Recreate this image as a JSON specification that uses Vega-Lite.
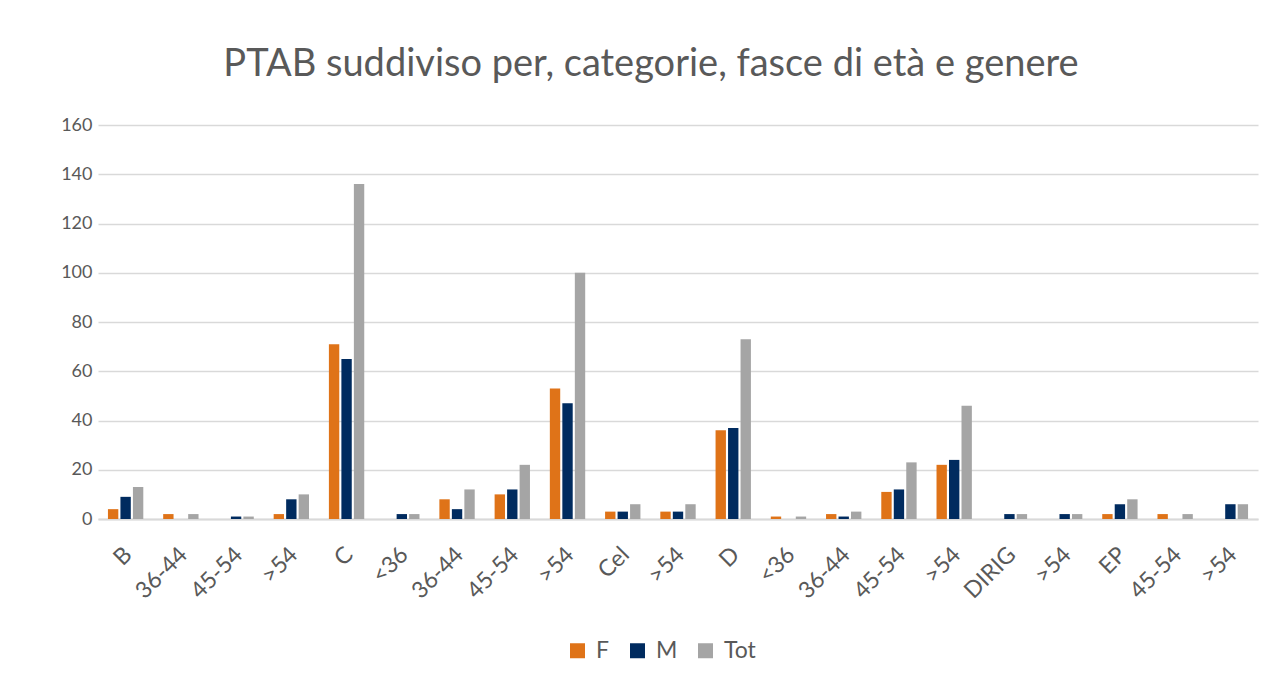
{
  "$schema": "https://vega.github.io/schema/vega-lite/v6.json",
  "width": 1160,
  "height": 394,
  "padding": {"left": 60, "top": 46, "right": 10, "bottom": 5},
  "background": "white",
  "title": {"text": "PTAB suddiviso per, categorie, fasce di età e genere", "font": "Lato", "fontSize": 38, "fontWeight": "normal", "color": "#595959", "offset": 32, "dx": -27},
  "data": {"values": [
    {"i": 0, "s": "F", "v": 4}, {"i": 0, "s": "M", "v": 9}, {"i": 0, "s": "Tot", "v": 13},
    {"i": 1, "s": "F", "v": 2}, {"i": 1, "s": "M", "v": 0}, {"i": 1, "s": "Tot", "v": 2},
    {"i": 2, "s": "F", "v": 0}, {"i": 2, "s": "M", "v": 1}, {"i": 2, "s": "Tot", "v": 1},
    {"i": 3, "s": "F", "v": 2}, {"i": 3, "s": "M", "v": 8}, {"i": 3, "s": "Tot", "v": 10},
    {"i": 4, "s": "F", "v": 71}, {"i": 4, "s": "M", "v": 65}, {"i": 4, "s": "Tot", "v": 136},
    {"i": 5, "s": "F", "v": 0}, {"i": 5, "s": "M", "v": 2}, {"i": 5, "s": "Tot", "v": 2},
    {"i": 6, "s": "F", "v": 8}, {"i": 6, "s": "M", "v": 4}, {"i": 6, "s": "Tot", "v": 12},
    {"i": 7, "s": "F", "v": 10}, {"i": 7, "s": "M", "v": 12}, {"i": 7, "s": "Tot", "v": 22},
    {"i": 8, "s": "F", "v": 53}, {"i": 8, "s": "M", "v": 47}, {"i": 8, "s": "Tot", "v": 100},
    {"i": 9, "s": "F", "v": 3}, {"i": 9, "s": "M", "v": 3}, {"i": 9, "s": "Tot", "v": 6},
    {"i": 10, "s": "F", "v": 3}, {"i": 10, "s": "M", "v": 3}, {"i": 10, "s": "Tot", "v": 6},
    {"i": 11, "s": "F", "v": 36}, {"i": 11, "s": "M", "v": 37}, {"i": 11, "s": "Tot", "v": 73},
    {"i": 12, "s": "F", "v": 1}, {"i": 12, "s": "M", "v": 0}, {"i": 12, "s": "Tot", "v": 1},
    {"i": 13, "s": "F", "v": 2}, {"i": 13, "s": "M", "v": 1}, {"i": 13, "s": "Tot", "v": 3},
    {"i": 14, "s": "F", "v": 11}, {"i": 14, "s": "M", "v": 12}, {"i": 14, "s": "Tot", "v": 23},
    {"i": 15, "s": "F", "v": 22}, {"i": 15, "s": "M", "v": 24}, {"i": 15, "s": "Tot", "v": 46},
    {"i": 16, "s": "F", "v": 0}, {"i": 16, "s": "M", "v": 2}, {"i": 16, "s": "Tot", "v": 2},
    {"i": 17, "s": "F", "v": 0}, {"i": 17, "s": "M", "v": 2}, {"i": 17, "s": "Tot", "v": 2},
    {"i": 18, "s": "F", "v": 2}, {"i": 18, "s": "M", "v": 6}, {"i": 18, "s": "Tot", "v": 8},
    {"i": 19, "s": "F", "v": 2}, {"i": 19, "s": "M", "v": 0}, {"i": 19, "s": "Tot", "v": 2},
    {"i": 20, "s": "F", "v": 0}, {"i": 20, "s": "M", "v": 6}, {"i": 20, "s": "Tot", "v": 6}
  ]},
  "mark": {"type": "bar"},
  "encoding": {
    "x": {
      "field": "i", "type": "ordinal",
      "scale": {"paddingInner": 0.36, "paddingOuter": 0.18},
      "axis": {
        "title": null, "labelAngle": -45, "labelFont": "Lato", "labelFontSize": 23, "labelColor": "#595959",
        "labelPadding": 24, "labelOffset": -5, "ticks": false, "domainColor": "#D9D9D9", "domainWidth": 2,
        "labelExpr": "['B','36-44','45-54','>54','C','<36','36-44','45-54','>54','Cel','>54','D','<36','36-44','45-54','>54','DIRIG','>54','EP','45-54','>54'][datum.value]"
      }
    },
    "xOffset": {"field": "s", "type": "nominal", "sort": ["F", "M", "Tot"], "scale": {"paddingInner": 0.17}},
    "y": {
      "field": "v", "type": "quantitative",
      "scale": {"domain": [0, 160]},
      "axis": {"title": null, "values": [0, 20, 40, 60, 80, 100, 120, 140, 160], "domain": false, "ticks": false, "tickSize": 0, "labelPadding": 6, "labelFont": "Lato", "labelFontSize": 18, "labelColor": "#595959", "gridColor": "#D9D9D9", "gridWidth": 1.5}
    },
    "color": {
      "field": "s", "type": "nominal", "sort": ["F", "M", "Tot"],
      "scale": {"domain": ["F", "M", "Tot"], "range": ["#DF7318", "#002B5F", "#A5A5A5"]},
      "legend": {"title": null, "orient": "none", "legendX": 468, "legendY": 514, "direction": "horizontal", "padding": 0, "symbolType": "square", "symbolSize": 225, "symbolStrokeWidth": 0, "symbolOffset": 0, "labelFont": "Lato", "labelFontSize": 23, "labelColor": "#595959", "labelOffset": 7, "columnPadding": 16}
    }
  },
  "config": {"view": {"stroke": null}}
}
